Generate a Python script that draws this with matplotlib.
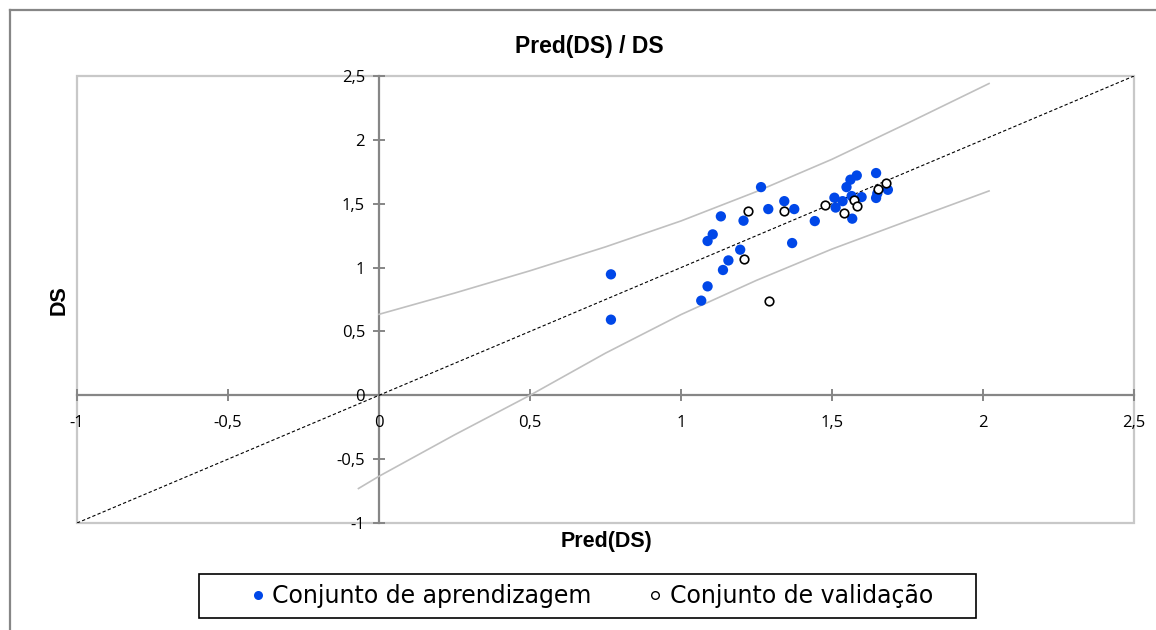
import matplotlib
matplotlib.use('Agg')
from matplotlib import pyplot as plt
from matplotlib.lines import Line2D
from matplotlib.patches import Rectangle
from matplotlib.ticker import FuncFormatter

# training set (Pred(DS), DS)
train_x = [0.768, 0.768, 1.067, 1.088, 1.088, 1.105, 1.132, 1.139, 1.157, 1.196,
           1.207, 1.265, 1.289, 1.342, 1.368, 1.375, 1.443, 1.508, 1.512, 1.535,
           1.548, 1.561, 1.565, 1.567, 1.582, 1.598, 1.646, 1.646, 1.650, 1.685]
train_y = [0.947, 0.592, 0.741, 0.853, 1.208, 1.260, 1.401, 0.981, 1.056, 1.140,
           1.367, 1.630, 1.458, 1.520, 1.192, 1.458, 1.364, 1.547, 1.470, 1.520,
           1.630, 1.688, 1.560, 1.383, 1.721, 1.552, 1.740, 1.545, 1.580, 1.609]

# validation set
val_x = [1.208, 1.222, 1.290, 1.340, 1.478, 1.541, 1.573, 1.584, 1.653, 1.680]
val_y = [1.064, 1.442, 0.741, 1.445, 1.490, 1.427, 1.531, 1.479, 1.617, 1.661]

# prediction band
upper_x = [0.0, 0.25, 0.5, 0.75, 1.0, 1.25, 1.5, 1.75, 2.02]
upper_y = [0.634, 0.80, 0.975, 1.162, 1.365, 1.595, 1.848, 2.130, 2.441]
lower_x = [-0.068, 0.0, 0.25, 0.5, 0.75, 1.0, 1.25, 1.5, 1.75, 2.02]
lower_y = [-0.730, -0.634, -0.31, 0.0, 0.33, 0.632, 0.900, 1.145, 1.365, 1.600]

diag = [-1, 2.5]
ticks = [-1, -0.5, 0, 0.5, 1, 1.5, 2, 2.5]

W, H = 1156, 630
fig = plt.figure(figsize=(W / 100, H / 100), dpi=100)
ax = fig.add_axes([77 / W, 1 - 523 / H, (1134 - 77) / W, (523 - 76) / H])

ax.plot(upper_x, upper_y, color='#c0c0c0', lw=1.2, zorder=2)
ax.plot(lower_x, lower_y, color='#c0c0c0', lw=1.2, zorder=2)
ax.plot(diag, diag, color='black', lw=0.8, ls=(0, (3, 2)), zorder=3)

ax.scatter(train_x, train_y, s=55, color='#0047e8', edgecolors='none', zorder=5,
           label='Conjunto de aprendizagem')
ax.scatter(val_x, val_y, s=38, facecolors='white', edgecolors='black', linewidths=1.2,
           zorder=6, label='Conjunto de validação')

ax.set_xlim(-1, 2.5)
ax.set_ylim(-1, 2.5)
ax.set_xticks(ticks)
ax.set_yticks(ticks)
fmt = FuncFormatter(lambda v, p: ('%g' % v).replace('.', ','))
ax.xaxis.set_major_formatter(fmt)
ax.yaxis.set_major_formatter(fmt)

for side in ['left', 'bottom']:
    ax.spines[side].set_position(('data', 0))
    ax.spines[side].set_color('#868686')
    ax.spines[side].set_linewidth(1.6)
    ax.spines[side].set_zorder(1)
for side in ['top', 'right']:
    ax.spines[side].set_visible(False)
ax.add_patch(Rectangle((0, 0), 1, 1, transform=ax.transAxes, fill=False,
                       edgecolor='#c8c8c8', lw=1.6, clip_on=False, zorder=0))

ax.tick_params(direction='inout', length=8, width=1.4, color='#868686',
               labelsize=12, labelcolor='black')
ax.tick_params(axis='x', pad=10)
ax.tick_params(axis='y', pad=6)
for lab in ax.get_xticklabels() + ax.get_yticklabels():
    lab.set_family('Open Sans')

fig.text(589 / W, 1 - 47 / H, 'Pred(DS) / DS', ha='center', va='center',
         fontsize=16.5, fontweight='bold', family='Liberation Sans')
fig.text(606 / W, 1 - 541 / H, 'Pred(DS)', ha='center', va='center',
         fontsize=15.5, fontweight='bold', family='Liberation Sans')
fig.text(59 / W, 1 - 300 / H, 'DS', ha='center', va='center', rotation=90,
         fontsize=15.5, fontweight='bold', family='Liberation Sans')

h1 = Line2D([], [], ls='none', marker='o', markersize=6.5, color='#0047e8',
            markeredgecolor='none')
h2 = Line2D([], [], ls='none', marker='o', markersize=5.5, markerfacecolor='white',
            markeredgecolor='black', markeredgewidth=1)
leg = fig.legend([h1, h2], ['Conjunto de aprendizagem', 'Conjunto de validação'],
                 loc='center', bbox_to_anchor=(592 / W, 1 - 596 / H), ncol=2,
                 fontsize=17, frameon=False,
                 handlelength=0.6, handletextpad=0.3, columnspacing=2.4,
                 borderpad=0.3, borderaxespad=0)
# legend frame, wider on the left as in the original
fig.add_artist(Rectangle((199 / W, 1 - 618 / H), (976 - 199) / W, 44 / H,
                         transform=fig.transFigure, fill=False,
                         edgecolor='black', lw=1.2))

# outer chart border (only top and left are inside the picture)
fig.add_artist(Line2D([10 / W, 10 / W], [0, 1 - 10 / H], color='#868686', lw=1.6))
fig.add_artist(Line2D([10 / W, 1], [1 - 10 / H, 1 - 10 / H], color='#868686', lw=1.6))

fig.savefig('out.png', dpi=100)
